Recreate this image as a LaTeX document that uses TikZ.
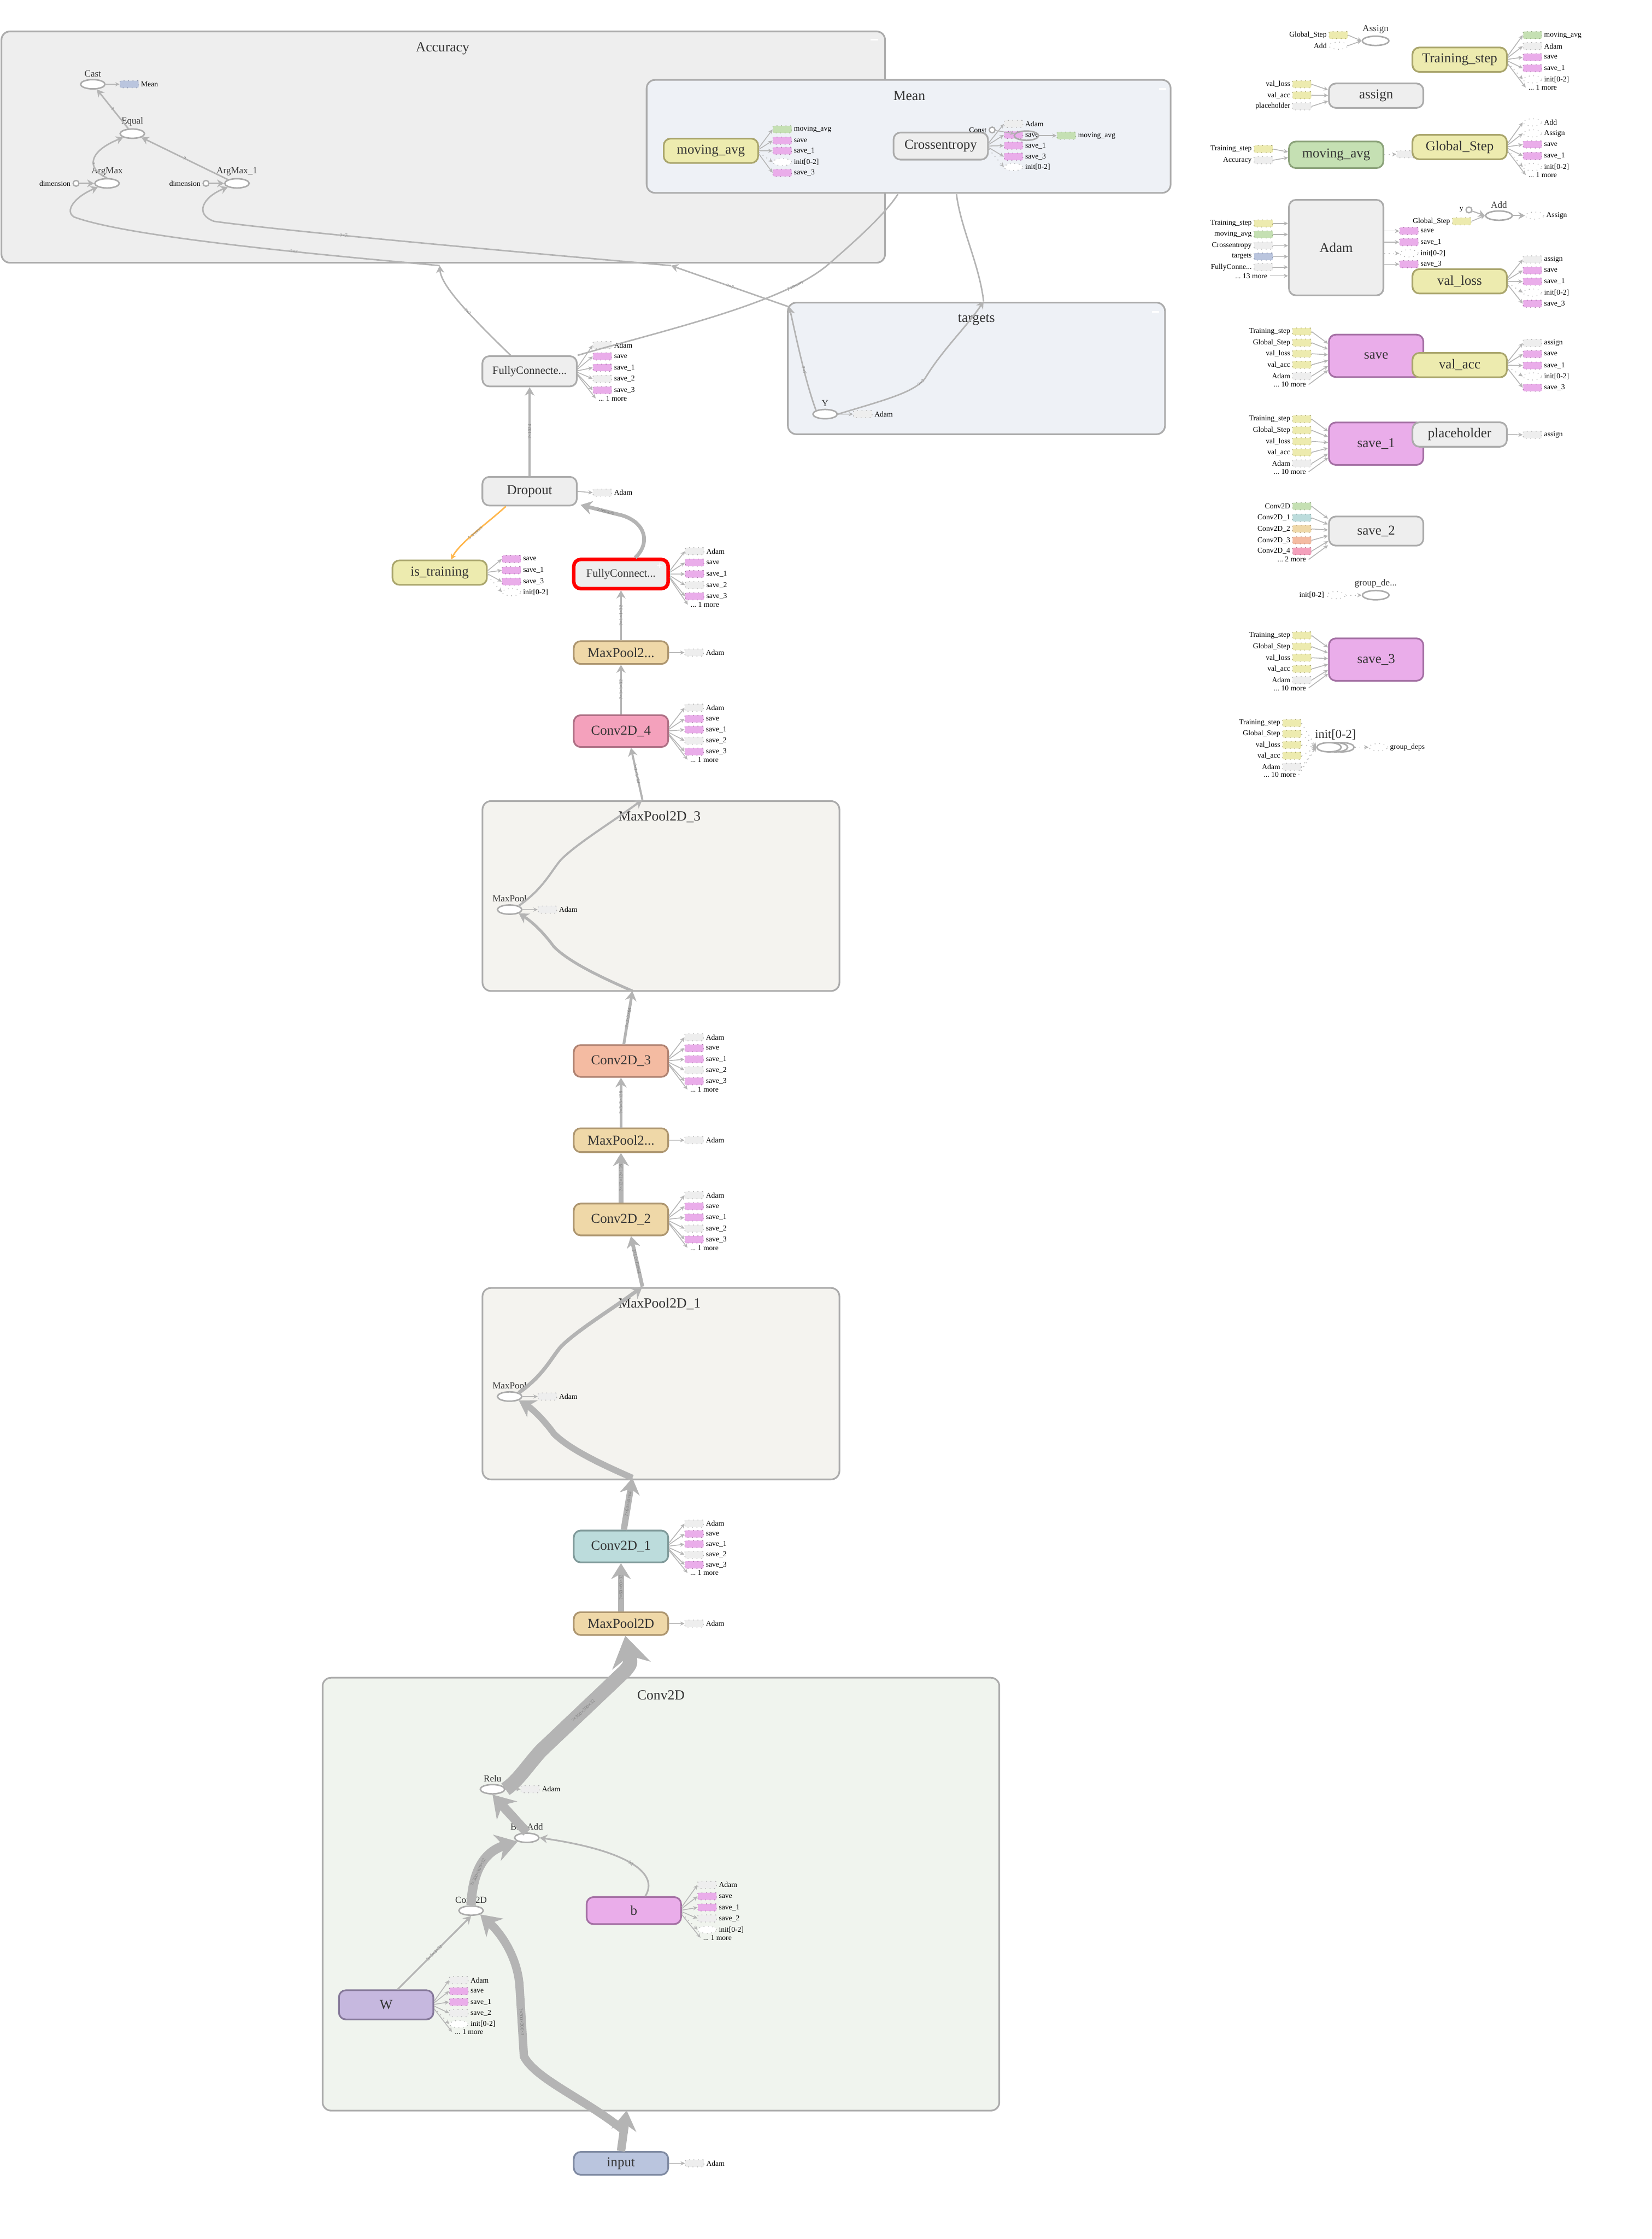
\documentclass[tikz,border=0pt]{standalone}
\usepackage{fontspec}
\setmainfont{Liberation Serif}
\usepackage{tikz}
\usetikzlibrary{arrows.meta, positioning, shapes.geometric, calc}

\definecolor{edgegray}{HTML}{B4B4B4}
\definecolor{txtgray}{HTML}{333333}
\definecolor{boxline}{HTML}{ABABAB}
\definecolor{accfill}{HTML}{EEEEEE}
\definecolor{meanfill}{HTML}{EEF1F6}
\definecolor{poolfill}{HTML}{F4F3EF}
\definecolor{convfill}{HTML}{F0F4EE}
\definecolor{greyfill}{HTML}{EEEEEE}
\definecolor{yelfill}{HTML}{EDEBAF}
\definecolor{yelline}{HTML}{A9A56C}
\definecolor{grnfill}{HTML}{C5E0B3}
\definecolor{grnline}{HTML}{8BA27A}
\definecolor{pnkfill}{HTML}{EAADEA}
\definecolor{pnkline}{HTML}{A470A4}
\definecolor{purfill}{HTML}{C6B8DF}
\definecolor{purline}{HTML}{857899}
\definecolor{tealfill}{HTML}{BCDCDC}
\definecolor{tealline}{HTML}{809A9A}
\definecolor{tanfill}{HTML}{EFD8A8}
\definecolor{tanline}{HTML}{AD9670}
\definecolor{salfill}{HTML}{F4BBA2}
\definecolor{salline}{HTML}{AF8271}
\definecolor{rosefill}{HTML}{F4A1BC}
\definecolor{roseline}{HTML}{AE7085}
\definecolor{blufill}{HTML}{BAC5DE}
\definecolor{bluline}{HTML}{7F8AA2}
\definecolor{refedge}{HTML}{FFB74D}

\newcommand{\opfont}{\fontsize{7.3}{8}\selectfont}
\newcommand{\grpfont}{\fontsize{7.5}{8}\selectfont}
\newcommand{\leaffont}{\fontsize{5}{5.5}\selectfont}
\newcommand{\satfont}{\fontsize{4}{4.5}\selectfont}
\newcommand{\shapefont}{\fontsize{2.6}{3}\selectfont}
\newcommand{\mdots}{..\kern0pt.}

% satellite boxes right / left of a node, entries y/style/text
\newcommand{\rsats}[4][0.15]{%
  \foreach \satY/\satK/\satT [count=\satN] in {#4} {
    \gdef\satD{sdefault}
    \node[\satK] (#2-r\satN) at (#3,\satY) {};
    \node[satlbl, right=0.6pt of #2-r\satN] (#2-rt\satN) {\satT};
    \draw[sedge, \satD] ($(#2.east)!#1!(#2.east |- #2-r\satN)$) -- (#2-r\satN.west);
  }}
\newcommand{\lsats}[4][0.5]{%
  \foreach \satY/\satK/\satT [count=\satN] in {#4} {
    \gdef\satD{sdefault}
    \node[\satK] (#2-l\satN) at (#3,\satY) {};
    \node[satlbl, left=0.6pt of #2-l\satN] (#2-lt\satN) {\satT};
    \draw[sedge, \satD] (#2-l\satN.east) -- ($(#2.west)!#1!(#2.west |- #2-l\satN)$);
  }}

\begin{document}
\begin{tikzpicture}[
    x=0.02692cm, y=-0.02692cm,
    >=Stealth,
    grp/.style={rectangle, draw=boxline, line width=0.9pt, rounded corners=0.16cm, inner sep=0pt},
    gtitle/.style={font=\grpfont, text=txtgray, inner sep=1pt},
    op/.style={rectangle, rounded corners=0.13cm, line width=0.9pt, minimum width=1.78cm,
        minimum height=0.46cm, inner sep=0pt, font=\opfont, text=txtgray},
    greyop/.style={op, fill=greyfill, draw=boxline},
    yelop/.style={op, fill=yelfill, draw=yelline},
    grnop/.style={op, fill=grnfill, draw=grnline},
    pnkop/.style={op, fill=pnkfill, draw=pnkline},
    purop/.style={op, fill=purfill, draw=purline},
    tealop/.style={op, fill=tealfill, draw=tealline},
    tanop/.style={op, fill=tanfill, draw=tanline},
    salop/.style={op, fill=salfill, draw=salline},
    roseop/.style={op, fill=rosefill, draw=roseline},
    bluop/.style={op, fill=blufill, draw=bluline},
    leaf/.style={ellipse, draw=boxline, line width=0.8pt, fill=white,
        minimum width=0.46cm, minimum height=0.175cm, inner sep=0pt},
    leaflbl/.style={font=\leaffont, text=txtgray, inner sep=0.4pt},
    dimc/.style={circle, draw=boxline, line width=0.7pt, fill=white, minimum size=0.11cm, inner sep=0pt},
    sat/.style={rectangle, dotted, line width=0.4pt, minimum width=0.35cm,
        minimum height=0.135cm, inner sep=0pt, rounded corners=0.4pt},
    gsat/.style={sat, fill=greyfill, draw=boxline},
    psat/.style={sat, fill=pnkfill, draw=pnkline},
    ysat/.style={sat, fill=yelfill, draw=yelline},
    grsat/.style={sat, fill=grnfill, draw=grnline},
    bsat/.style={sat, fill=blufill, draw=bluline},
    tlsat/.style={sat, fill=tealfill, draw=tealline},
    tnsat/.style={sat, fill=tanfill, draw=tanline},
    slsat/.style={sat, fill=salfill, draw=salline},
    rssat/.style={sat, fill=rosefill, draw=roseline},
    isat/.style={ellipse, dotted, draw=boxline, fill=white, line width=0.4pt, minimum width=0.35cm,
        minimum height=0.135cm, inner sep=0pt, /utils/exec=\gdef\satD{dotted}},
    esat/.style={ellipse, dotted, draw=boxline, line width=0.4pt, minimum width=0.35cm,
        minimum height=0.135cm, inner sep=0pt},
    moresat/.style={rectangle, inner sep=0pt, minimum size=0pt, xshift=-0.12cm},
    lmoresat/.style={rectangle, inner sep=0pt, minimum size=0pt, xshift=0.12cm},
    satlbl/.style={font=\satfont, inner sep=0.3pt},
    sdefault/.style={},
    sedge/.style={draw=edgegray, line width=0.45pt, -{Stealth[length=2.4pt, width=2.2pt]}},
    flow/.style={draw=edgegray, line width=#1, -{Stealth[length=2.5pt 1.8, width=2.5pt 2.4]}},
    flow/.default=1pt,
    bare/.style={draw=edgegray, line width=0.8pt},
    elbl/.style={font=\shapefont, text=gray, sloped, inner sep=0.3pt}
]

\fill[white] (0,0) rectangle (1157,1568);
\useasboundingbox (0,0) rectangle (1157,1568);

% groups
\node[grp, fill=accfill, minimum width=16.66cm, minimum height=4.36cm] (acc) at (310.5,103) {};
\node[gtitle] (acct) at (310,34) {Accuracy};
\node[grp, fill=meanfill, minimum width=9.88cm, minimum height=2.13cm] (mean) at (636.5,95.5) {};
\node[gtitle] (meant) at (637,67) {Mean};
\node[grp, fill=meanfill, minimum width=7.11cm, minimum height=2.48cm] (tgt) at (684,258) {};
\node[gtitle] (tgtt) at (684,224) {targets};
\node[grp, fill=poolfill, minimum width=6.73cm, minimum height=3.58cm] (mp3g) at (463,627.5) {};
\node[gtitle] (mp3t) at (462,572) {MaxPool2D\_3};
\node[grp, fill=poolfill, minimum width=6.73cm, minimum height=3.61cm] (mp1g) at (463,969) {};
\node[gtitle] (mp1t) at (462,913) {MaxPool2D\_1};
\node[grp, fill=convfill, minimum width=12.76cm, minimum height=8.16cm] (cvg) at (463,1326.5) {};
\node[gtitle] (cvgt) at (463,1187) {Conv2D};
\fill[white] (610,27) rectangle (615,28.3);
\fill[white] (812,61.7) rectangle (817,63);
\fill[white] (807,217.8) rectangle (812,219.1);

% main chain
\node[greyop, minimum height=0.57cm, font=\fontsize{6}{7}\selectfont] (fcb) at (371,260) {FullyConnecte...};
\node[greyop, minimum height=0.54cm] (drop) at (371,344) {Dropout};
\node[yelop] (istr) at (308,401) {is\_training};
\node[greyop, draw=red, line width=1.9pt, minimum height=0.55cm, font=\fontsize{6}{7}\selectfont] (fca) at (435,402) {FullyConnect...};
\node[text=white, font=\fontsize{6}{6}\selectfont, inner sep=0pt] (fcaplus) at (462,396.5) {+};
\node[tanop, minimum height=0.43cm] (mp4) at (435,457) {MaxPool2...};
\node[roseop, minimum height=0.6cm] (c4) at (435,512) {Conv2D\_4};
\node[salop, minimum height=0.6cm] (c3) at (435,743) {Conv2D\_3};
\node[tanop, minimum height=0.45cm] (mp2) at (435,798.5) {MaxPool2...};
\node[tanop, minimum height=0.6cm] (c2) at (435,854) {Conv2D\_2};
\node[tealop, minimum height=0.6cm] (c1) at (435,1083) {Conv2D\_1};
\node[tanop, minimum height=0.43cm] (mp0) at (435,1137) {MaxPool2D};
\node[bluop, minimum height=0.43cm] (inp) at (435,1515) {input};
\node[pnkop, minimum height=0.51cm] (bop) at (444,1338) {b};
\node[purop, minimum height=0.55cm] (wop) at (270.5,1404) {W};

% ops inside groups
\node[leaf] (mpool3) at (357,637) {};
\node[leaflbl, above=0.6pt of mpool3] (mpool3l) {MaxPool};
\node[leaf] (mpool1) at (357,978) {};
\node[leaflbl, above=0.6pt of mpool1] (mpool1l) {MaxPool};
\node[leaf] (relu) at (345,1253) {};
\node[leaflbl, above=0.6pt of relu] (relul) {Relu};
\node[leaf] (badd) at (369,1287) {};
\node[leaflbl, above=0.6pt of badd] (baddl) {BiasAdd};
\node[leaf] (conv) at (330,1338) {};
\node[leaflbl, above=0.6pt of conv] (convl) {Conv2D};
\node[leaf] (yop) at (578,290) {};
\node[leaflbl, above=0.6pt of yop] (yopl) {Y};
\node[leaf] (cast) at (65,59) {};
\node[leaflbl, above=0.6pt of cast] (castl) {Cast};
\node[leaf] (equal) at (92.7,93.6) {};
\node[leaflbl, above=0.6pt of equal] (equall) {Equal};
\node[leaf] (amax) at (75,128.4) {};
\node[leaflbl, above=0.6pt of amax] (amaxl) {ArgMax};
\node[leaf] (amax1) at (166,128.4) {};
\node[leaflbl, above=0.6pt of amax1] (amax1l) {ArgMax\_1};
\node[dimc] (dim0) at (53.3,128.4) {};
\node[satlbl, left=0.6pt of dim0] (dim0l) {dimension};
\node[dimc] (dim1) at (144.3,128.4) {};
\node[satlbl, left=0.6pt of dim1] (dim1l) {dimension};

% Mean group
\node[yelop] (mavga) at (498,105.6) {moving\_avg};
\node[greyop, minimum height=0.51cm] (xent) at (659,102.3) {Crossentropy};

% satellites of the graph nodes
\rsats{fcb}{422}{241.7/gsat/Adam, 249.6/psat/save, 257.5/psat/save\_1, 265.3/gsat/save\_2, 273.3/psat/save\_3, 279/moresat/\mdots\ 1 more}
\rsats{drop}{422}{345/gsat/Adam}
\rsats{istr}{358.3}{391.5/psat/save, 399.4/psat/save\_1, 407.3/psat/save\_3, 414.7/isat/init[0-2]}
\rsats{fca}{486.6}{386/gsat/Adam, 394/psat/save, 402/psat/save\_1, 409.8/gsat/save\_2, 417.6/psat/save\_3, 423.5/moresat/\mdots\ 1 more}
\rsats{mp4}{486.3}{457/gsat/Adam}
\rsats{c4}{486.3}{495.6/gsat/Adam, 503.4/psat/save, 511/psat/save\_1, 518.7/gsat/save\_2, 526.4/psat/save\_3, 532/moresat/\mdots\ 1 more}
\rsats{c3}{486.3}{726.4/gsat/Adam, 734/psat/save, 741.8/psat/save\_1, 749.5/gsat/save\_2, 757.2/psat/save\_3, 763/moresat/\mdots\ 1 more}
\rsats{mp2}{486.3}{798.5/gsat/Adam}
\rsats{c2}{486.3}{837/gsat/Adam, 844.8/psat/save, 852.6/psat/save\_1, 860.4/gsat/save\_2, 868/psat/save\_3, 873.8/moresat/\mdots\ 1 more}
\rsats{c1}{486.3}{1067/gsat/Adam, 1074.2/psat/save, 1081.4/psat/save\_1, 1088.8/gsat/save\_2, 1095.9/psat/save\_3, 1101.5/moresat/\mdots\ 1 more}
\rsats{mp0}{486.3}{1137/gsat/Adam}
\rsats{mpool3}{383.5}{637/gsat/Adam}
\rsats{mpool1}{383.5}{978/gsat/Adam}
\rsats{relu}{371.5}{1253/gsat/Adam}
\rsats{bop}{495.4}{1320/gsat/Adam, 1328/psat/save, 1335.8/psat/save\_1, 1343.5/gsat/save\_2, 1351.4/isat/init[0-2], 1357/moresat/\mdots\ 1 more}
\rsats{wop}{321.4}{1386.7/gsat/Adam, 1394.4/psat/save, 1402/psat/save\_1, 1409.8/gsat/save\_2, 1417.5/isat/init[0-2], 1423/moresat/\mdots\ 1 more}
\rsats{inp}{486.6}{1515/gsat/Adam}
\rsats{yop}{604.4}{290/gsat/Adam}
\rsats{cast}{90.6}{59/bsat/Mean}
\rsats{mavga}{548}{90.6/grsat/moving\_avg, 98.5/psat/save, 105.6/psat/save\_1, 113.5/isat/init[0-2], 121/psat/save\_3}
\rsats{xent}{710}{86.8/gsat/Adam, 94.5/psat/save, 102/psat/save\_1, 109.7/psat/save\_3, 117/isat/init[0-2]}
\node[dimc] (cnst) at (695,91) {};
\node[satlbl, left=0.6pt of cnst] (cnstl) {Const};
\node[leaf, fill=none] (meanop) at (719,95) {};
\node[grsat] (meanmv) at (747,95) {};
\node[satlbl, right=0.6pt of meanmv] (meanmvl) {moving\_avg};
\draw[sedge] (cnst) -- (meanop);
\draw[sedge] (meanop) -- (meanmv);

% main chain connectors
\draw[flow=3.3pt] (mp0) -- (c1) node[elbl, midway] {?×60×60×32};
\coordinate (mp1bot) at (443,1035);
\coordinate (mp1top) at (450,901);
\draw[flow=3.4pt] ($(c1.north)+(2,0)$) -- (mp1bot) node[elbl, midway] {?×60×60×64};
\draw[flow=3.4pt] (mp1bot) .. controls (425,1027) and (400,1016) .. (388,1004)
    .. controls (380,993) and (372,986) .. (mpool1.south east);
\draw[flow=2pt] (mpool1.north east) .. controls (381,963) and (386,951) .. (393,943)
    .. controls (405,931) and (430,916) .. (mp1top);
\draw[flow=2pt] (mp1top) -- ($(c2.south)+(7,0)$) node[elbl, midway] {?×12×12×64};
\draw[flow=2.5pt] (c2) -- (mp2) node[elbl, midway] {?×12×12×128};
\draw[flow=1.5pt] (mp2) -- (c3) node[elbl, midway] {?×3×3×128};
\coordinate (mp3bot) at (443,694);
\coordinate (mp3top) at (450,560);
\draw[flow=1.5pt] ($(c3.north)+(2,0)$) -- (mp3bot) node[elbl, midway] {?×3×3×64};
\draw[flow=1.5pt] (mp3bot) .. controls (425,686) and (400,675) .. (388,663)
    .. controls (380,652) and (372,645) .. (mpool3.south east);
\draw[flow=1.1pt] (mpool3.north east) .. controls (381,622) and (386,610) .. (393,602)
    .. controls (405,590) and (430,575) .. (mp3top);
\draw[flow=1.1pt] (mp3top) -- ($(c4.south)+(7,0)$) node[elbl, midway] {?×1×1×64};
\draw[flow=1pt] (c4) -- (mp4) node[elbl, midway] {?×1×1×32};
\draw[flow=1pt] (mp4) -- (fca) node[elbl, midway] {?×1×1×32};
\draw[flow=2pt] ($(fca.north)+(10,0)$) .. controls (456,380) and (452,366) .. (436,361)
    -- ($(drop.south east)+(2,-1)$) node[elbl, pos=0.4] {2 tensors};
\draw[draw=refedge, line width=0.8pt, -{Stealth[length=3pt, width=3pt]}] ($(drop.south west)+(17,0)$)
    .. controls (342,366) and (322,380) .. ($(istr.north)+(8,0)$) node[elbl, pos=0.5] {5 tensors};
\draw[flow=1.1pt] (drop) -- (fcb) node[elbl, midway] {?×1024};

% Conv2D group connectors
\coordinate (cvbot) at (439,1478);
\coordinate (cvin) at (437,1492);
\draw[flow=4.5pt] (inp.north) -- (cvbot);
\draw[flow=4.5pt] (cvin) .. controls (410,1470) and (375,1456) .. (367,1440) -- (364,1392)
    node[elbl, midway] {?×300×300×3} .. controls (363,1372) and (352,1355) .. (conv.south east);
\draw[flow=0.9pt] ($(wop.north)+(8,0)$) -- (conv.south) node[elbl, midway] {5×5×3×32};
\draw[flow=5pt] (conv.north) .. controls (331,1312) and (338,1297) .. (badd.south west)
    node[elbl, pos=0.4] {?×300×300×32};
\draw[flow=0.9pt] ($(bop.north)+(8,0)$) .. controls (462,1312) and (440,1296) .. (badd.east)
    node[elbl, pos=0.5] {32};
\draw[flow=5pt] (badd.north) -- (relu.south);
\draw[flow=7.6pt] (relu.east) .. controls (363,1247) and (369,1237) .. (379,1226)
    -- (438,1170) node[elbl, midway] {?×300×300×32} .. controls (442,1165) .. ($(mp0.south)+(3,0)$);

% Accuracy connectors
\draw[flow=0.8pt] (equal) -- (cast) node[elbl, midway] {?};
\draw[flow=0.8pt] (amax.north) .. controls (60,118) and (62,106) .. (equal.south west) node[elbl, pos=0.4] {?};
\draw[flow=0.8pt] (amax1.north west) -- (equal.south east) node[elbl, midway] {?};
\draw[flow=0.7pt] (dim0) -- (amax);
\draw[flow=0.7pt] (dim1) -- (amax1);
\coordinate (accb1) at (308,186);
\coordinate (accb2) at (470,186);
\coordinate (tgtnw) at (553,215);
\coordinate (tgtn) at (689,211);
\coordinate (meanbl) at (629,136);
\coordinate (meanbr) at (670,136);
\draw[flow=0.8pt] (fcb.140) .. controls (328,220) and (309,200) .. (accb1) node[elbl, pos=0.4] {?×7};
\draw[flow=0.8pt] (accb1) .. controls (220,178) and (90,166) .. (52,152)
    node[elbl, pos=0.35] {?×7} .. controls (45,148) and (52,138) .. (amax.south west);
\draw[flow=0.8pt] (yop.north west) .. controls (566,272) and (561,252) .. (tgtnw) node[elbl, pos=0.5] {?×7};
\draw[flow=0.8pt] (tgtnw) -- (accb2) node[elbl, midway] {?×7};
\draw[flow=0.8pt] (accb2) .. controls (380,178) and (200,162) .. (150,155)
    node[elbl, pos=0.65] {?×7} .. controls (136,150) and (142,138) .. (amax1.south west);
\draw[flow=0.8pt] (yop.east) .. controls (620,280) and (640,275) .. (648,265) node[elbl, pos=0.9] {?×7}
    .. controls (660,245) and (678,228) .. (tgtn);
\draw[bare] (tgtn) .. controls (686,185) and (673,160) .. (meanbr);
\draw[bare] (fcb.north east) .. controls (470,230) and (550,212) .. (581,184.5)
    node[elbl, pos=0.8] {2 tensors} .. controls (600,168) and (620,150) .. (meanbl);

% right hand graph
\node[leaf, minimum width=0.5cm] (asg) at (963.6,28.6) {};
\node[leaflbl, above=0.5pt of asg] (asgl) {Assign};
\lsats[0]{asg}{937.5}{24.6/ysat/Global\_Step, 32/esat/Add}
\node[yelop] (tstep) at (1022.5,41.8) {Training\_step};
\rsats{tstep}{1073.5}{24.6/grsat/moving\_avg, 32.3/gsat/Adam, 40.1/psat/save, 47.8/psat/save\_1, 55.6/isat/init[0-2], 61.3/moresat/\mdots\ 1 more}
\node[greyop] (asgn) at (964,67) {assign};
\lsats{asgn}{912}{59/ysat/val\_loss, 66.7/ysat/val\_acc, 74.5/gsat/placeholder}
\node[grnop, minimum height=0.5cm] (mavgb) at (936,108.4) {moving\_avg};
\lsats{mavgb}{885}{104.4/ysat/Training\_step, 112.2/gsat/Accuracy}
\node[gsat] (mavgbo) at (985,108) {};
\draw[sedge, dotted] (mavgb.east) -- (mavgbo.west);
\node[yelop] (gstep) at (1022.5,103) {Global\_Step};
\rsats{gstep}{1073.5}{85.7/esat/Add, 93.4/esat/Assign, 101.2/psat/save, 109.2/psat/save\_1, 117/isat/init[0-2], 122.5/moresat/\mdots\ 1 more}
\node[greyop, minimum height=1.8cm] (adam) at (936,173.4) {Adam};
\lsats[1]{adam}{885}{156.5/ysat/Training\_step, 164.2/grsat/moving\_avg, 172/gsat/Crossentropy, 179.7/bsat/targets, 187.1/gsat/FullyConne\mdots, 193.2/lmoresat/\mdots\ 13 more}
\rsats[1]{adam}{987}{161.8/psat/save, 169.6/psat/save\_1, 177.4/isat/init[0-2], 185/psat/save\_3}
\node[leaf, minimum width=0.5cm] (addop) at (1050,151) {};
\node[leaflbl, above=0.5pt of addop] (addopl) {Add};
\node[dimc] (ycst) at (1029,147) {};
\node[satlbl, left=0.6pt of ycst] (ycstl) {y};
\node[ysat] (addgs) at (1024,155) {};
\node[satlbl, left=0.6pt of addgs] (addgsl) {Global\_Step};
\node[esat] (addas) at (1075,151) {};
\node[satlbl, right=0.6pt of addas] (addasl) {Assign};
\draw[flow=0.6pt] (ycst) -- (addop.west);
\draw[sedge] (addgs.east) -- (addop.west);
\draw[flow=0.6pt] (addop.east) -- (addas.west);
\node[yelop] (vloss) at (1022.5,197) {val\_loss};
\rsats{vloss}{1073.5}{181.7/gsat/assign, 189.4/psat/save, 197.2/psat/save\_1, 204.9/isat/init[0-2], 212.7/psat/save\_3}
\node[pnkop, minimum height=0.8cm] (sv0) at (964,249.2) {save};
\lsats{sv0}{912}{232.2/ysat/Training\_step, 240/ysat/Global\_Step, 247.7/ysat/val\_loss, 255.5/ysat/val\_acc, 263.4/gsat/Adam, 269.3/lmoresat/\mdots\ 10 more}
\node[yelop] (vacc) at (1022.5,255.7) {val\_acc};
\rsats{vacc}{1073.5}{240.2/gsat/assign, 248/psat/save, 256/psat/save\_1, 263.6/isat/init[0-2], 271.5/psat/save\_3}
\node[pnkop, minimum height=0.8cm] (sv1) at (964,310.7) {save\_1};
\lsats{sv1}{912}{293.5/ysat/Training\_step, 301.3/ysat/Global\_Step, 309.1/ysat/val\_loss, 316.8/ysat/val\_acc, 324.6/gsat/Adam, 330.4/lmoresat/\mdots\ 10 more}
\node[greyop] (ph) at (1022.5,304.3) {placeholder};
\rsats{ph}{1073.5}{304.5/gsat/assign}
\node[greyop, minimum height=0.55cm] (sv2) at (964,371.9) {save\_2};
\lsats{sv2}{912}{354.5/grsat/Conv2D, 362.6/tlsat/Conv2D\_1, 370.4/tnsat/Conv2D\_2, 378.4/slsat/Conv2D\_3, 386/rssat/Conv2D\_4, 391.8/lmoresat/\mdots\ 2 more}
\node[leaf, minimum width=0.5cm] (gdep) at (963.7,416.8) {};
\node[leaflbl, above=0.5pt of gdep] (gdepl) {group\_de...};
\node[isat] (gdepi) at (936,416.8) {};
\node[satlbl, left=0.8pt of gdepi] (gdepil) {init[0-2]};
\draw[sedge, dotted] (gdepi.east) -- (gdep.west);
\node[pnkop, minimum height=0.8cm] (sv3) at (964,461.9) {save\_3};
\lsats{sv3}{912}{445/ysat/Training\_step, 452.8/ysat/Global\_Step, 460.6/ysat/val\_loss, 468.5/ysat/val\_acc, 476.3/gsat/Adam, 481.8/lmoresat/\mdots\ 10 more}
\node[leaf] (ini3) at (940,523.3) {};
\node[leaf] (ini2) at (935.5,523.3) {};
\node[leaf] (ini1) at (931,523.3) {};
\node[leaflbl, font=\fontsize{6.6}{7}\selectfont, above=0.5pt of ini2] (inil) {init[0-2]};
\begin{scope}[sdefault/.style={dotted}]
\lsats[0]{ini1}{905}{506.4/ysat/Training\_step, 514/ysat/Global\_Step, 521.7/ysat/val\_loss, 529.3/ysat/val\_acc, 537/gsat/Adam, 542.5/lmoresat/\mdots\ 10 more}
\end{scope}
\node[esat] (inigd) at (965.5,523.3) {};
\node[satlbl, right=0.6pt of inigd] (inigdl) {group\_deps};
\draw[sedge, dotted] (ini3.east) -- (inigd.west);

\end{tikzpicture}
\end{document}
